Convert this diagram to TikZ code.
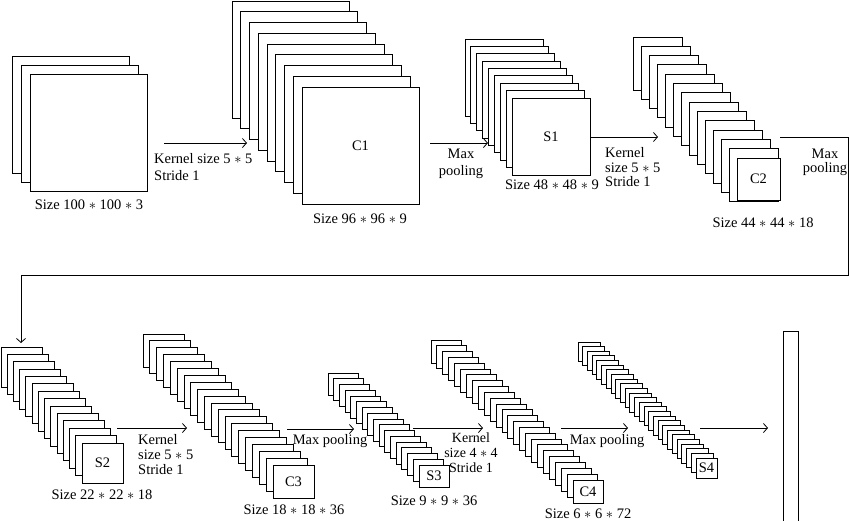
\documentclass[tikz,border=0pt]{standalone}
\usepackage{fontspec}
\setmainfont{Liberation Serif}
\usepackage{tikz}
\usetikzlibrary{arrows.meta,positioning}

\begin{document}
\begin{tikzpicture}[x=1pt, y=-1pt,
fmap/.style={draw, fill=white, line width=1pt},
front/.style={fmap, anchor=north west, inner sep=0pt, outer sep=0pt, font=\fontsize{14.5}{16}\selectfont},
lbl/.style={inner sep=0pt, font=\fontsize{14.5}{14.5}\selectfont},
line/.style={-{Straight Barb[length=4pt,width=9pt]}, line width=0.8pt}
]
\useasboundingbox (0,0) rectangle (850,520);
% first row of feature maps
\foreach \i in {0,1} \draw[fmap] ({12+9*\i},{56+9*\i}) rectangle ++(117,117);
\node[front, minimum width=117pt, minimum height=117pt] (input) at (30,74) {};
\foreach \i in {0,...,7} \draw[fmap] ({232+8.75*\i},{1+10.75*\i}) rectangle ++(117,117);
\node[front, minimum width=117pt, minimum height=117pt] (c1) at (302,87) {C1};
\foreach \i in {0,...,7} \draw[fmap] ({465+5.875*\i},{39+7.375*\i}) rectangle ++(78,77);
\node[front, minimum width=78pt, minimum height=77pt] (s1) at (512,98) {S1};
\foreach \i in {0,...,12} \draw[fmap] ({633+8*\i},{37+9.3*\i}) rectangle ++(49,53);
\node[front, minimum width=43pt, minimum height=42pt] (c2) at (737,158) {C2};
% second row of feature maps
\foreach \i in {0,...,12} \draw[fmap] ({1+6.23*\i},{347+7.38*\i}) rectangle ++(41,40);
\node[front, minimum width=41pt, minimum height=40pt] (s2) at (82,443) {S2};
\foreach \i in {0,...,18} \draw[fmap] ({143+6.84*\i},{334+6.9*\i}) rectangle ++(41,33);
\node[front, minimum width=41pt, minimum height=33pt] (c3) at (273,465) {C3};
\foreach \i in {0,...,15} \draw[fmap] ({328+5.69*\i},{373+5.75*\i}) rectangle ++(30,22);
\node[front, minimum width=30pt, minimum height=22pt] (s3) at (419,465) {S3};
\foreach \i in {0,...,23} \draw[fmap] ({431+5.92*\i},{340+5.83*\i}) rectangle ++(30,23);
\node[front, minimum width=30pt, minimum height=23pt] (c4) at (573,480) {C4};
\foreach \i in {0,...,24} \draw[fmap] ({578+4.72*\i},{342+4.64*\i}) rectangle ++(22,19);
\node[front, minimum width=21pt, minimum height=20pt] (s4) at (696,458) {S4};
\node[front, minimum width=15pt, minimum height=200pt] (fc) at (783,331) {};
% sizes
\node[lbl, anchor=base] (szin) at (89,209) {Size 100 $\ast$ 100 $\ast$ 3};
\node[lbl, anchor=base] (szc1) at (360,223) {Size 96 $\ast$ 96 $\ast$ 9};
\node[lbl, anchor=base] (szs1) at (552,189) {Size 48 $\ast$ 48 $\ast$ 9};
\node[lbl, anchor=base] (szc2) at (763,227) {Size 44 $\ast$ 44 $\ast$ 18};
\node[lbl, anchor=base] (szs2) at (102,499) {Size 22 $\ast$ 22 $\ast$ 18};
\node[lbl, anchor=base] (szc3) at (294,514) {Size 18 $\ast$ 18 $\ast$ 36};
\node[lbl, anchor=base] (szs3) at (434,505) {Size 9 $\ast$ 9 $\ast$ 36};
\node[lbl, anchor=base] (szc4) at (588,518) {Size 6 $\ast$ 6 $\ast$ 72};
% arrows
\coordinate (a1s) at (164,143); \coordinate (a1e) at (247,143);
\coordinate (a2s) at (430,143); \coordinate (a2e) at (488,143);
\coordinate (a3s) at (590,137); \coordinate (a3e) at (658,137);
\coordinate (a4s) at (780,137); \coordinate (a4e) at (21,343);
\coordinate (a5s) at (117,428); \coordinate (a5e) at (187,428);
\coordinate (a6s) at (287,429); \coordinate (a6e) at (354,429);
\coordinate (a7s) at (413,428); \coordinate (a7e) at (483,428);
\coordinate (a8s) at (561,428); \coordinate (a8e) at (628,428);
\coordinate (a9s) at (700,428); \coordinate (a9e) at (768,428);
\draw[line] (a1s) -- (a1e);
\draw[line] (a2s) -- (a2e);
\draw[line] (a3s) -- (a3e);
\draw[line] (a4s) -- (848,137) -- (848,275) -- (21,275) -- (a4e);
\draw[line] (a5s) -- (a5e);
\draw[line] (a6s) -- (a6e);
\draw[line] (a7s) -- (a7e);
\draw[line] (a8s) -- (a8e);
\draw[line] (a9s) -- (a9e);
% operations
\node[lbl, anchor=north west, align=left, font=\fontsize{14.5}{17}\selectfont] (k1) at (154,153) {Kernel size 5 $\ast$ 5\\Stride 1};
\node[lbl, anchor=north, align=center, font=\fontsize{14.5}{17}\selectfont] (p1) at (461,148.5) {Max\\pooling};
\node[lbl, anchor=north west, align=left] (k2) at (605,147.5) {Kernel\\size 5 $\ast$ 5\\Stride 1};
\node[lbl, anchor=north, align=center] (p2) at (825,148.5) {Max\\pooling};
\node[lbl, anchor=north west, align=left, font=\fontsize{14.5}{15}\selectfont] (k3) at (138,434) {Kernel\\size 5 $\ast$ 5\\Stride 1};
\node[lbl, anchor=base] (p3) at (330,444) {Max pooling};
\node[lbl, anchor=north, align=center, font=\fontsize{14}{15}\selectfont] (k4) at (471,433) {Kernel\\size 4 $\ast$ 4\\Stride 1};
\node[lbl, anchor=base] (p4) at (607,444) {Max pooling};
\end{tikzpicture}
\end{document}
